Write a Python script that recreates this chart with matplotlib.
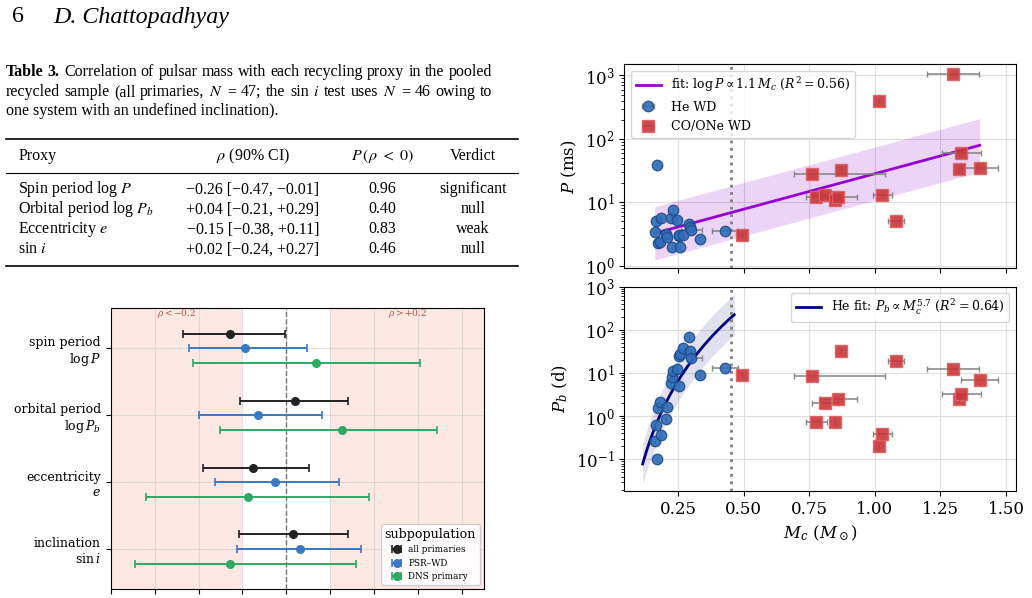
import numpy as np
import matplotlib.pyplot as plt
from matplotlib.lines import Line2D

plt.rcParams['font.family'] = 'DejaVu Serif'
plt.rcParams['mathtext.fontset'] = 'dejavuserif'

# ---- table 3 values ----
tab_proxy = ['Spin period log $P$', 'Orbital period log $P_b$', 'Eccentricity $e$', 'sin $i$']
tab_med = [-0.26, 0.04, -0.15, 0.02]
tab_lo = [-0.47, -0.21, -0.38, -0.24]
tab_hi = [-0.01, 0.29, 0.11, 0.27]
tab_pneg = [0.96, 0.40, 0.83, 0.46]
tab_verdict = ['significant', 'null', 'weak', 'null']

# ---- forest plot ----
proxies = ['spin period\n$\\log P$', 'orbital period\n$\\log P_b$', 'eccentricity\n$e$', 'inclination\n$\\sin i$']
subpops = ['all primaries', 'PSR\u2013WD', 'DNS primary']
sub_colors = ['#222222', '#3a78c3', '#2ea862']
rho_all = [-0.255, 0.04, -0.15, 0.03]
lo_all = [-0.47, -0.21, -0.38, -0.215]
hi_all = [-0.005, 0.28, 0.105, 0.28]
rho_wd = [-0.19, -0.13, -0.05, 0.06]
lo_wd = [-0.445, -0.40, -0.325, -0.225]
hi_wd = [0.095, 0.16, 0.24, 0.34]
rho_dns = [0.135, 0.255, -0.175, -0.255]
lo_dns = [-0.425, -0.30, -0.64, -0.69]
hi_dns = [0.61, 0.685, 0.375, 0.315]

# ---- companion mass panels ----
he_mc = [0.161, 0.167, 0.171, 0.172, 0.180, 0.183, 0.203, 0.208, 0.222, 0.225, 0.231,
         0.245, 0.253, 0.255, 0.257, 0.270, 0.290, 0.297, 0.300, 0.332, 0.430]
he_p = [3.4, 5.1, 39, 2.3, 2.4, 5.7, 3.2, 2.8, 5.7, 2.0, 7.6,
        5.3, 2.9, 3.1, 1.95, 3.05, 4.5, 4.1, 3.7, 2.6, 3.5]
he_pb = [0.27, 0.62, 0.105, 1.56, 2.1, 0.36, 0.87, 1.6, 5.9, 8.1, 11,
         12.6, 25, 4.9, 28, 38, 68, 33, 22, 9.2, 13]
he_err = [0, 0, 0, 0, 0, 0, 0, 0, 0, 0, 0,
          0, 0, 0, 0, 0, 0, 0, 0.04, 0, 0.05]

co_mc = [0.494, 0.76, 0.776, 0.81, 0.849, 0.861, 0.871, 1.017, 1.029, 1.08, 1.299, 1.32, 1.33, 1.40]
co_p = [3.05, 28, 12.3, 13.1, 11, 12.3, 32, 390, 12.8, 5.0, 1070, 33, 60, 35]
co_pb = [8.9, 8.4, 0.74, 2.0, 0.74, 2.5, 33, 0.20, 0.38, 19.3, 12.4, 2.5, 3.3, 6.8]
co_err_lo = [0, 0.07, 0.04, 0.05, 0, 0.07, 0, 0, 0.035, 0.03, 0.10, 0, 0.075, 0.07]
co_err_hi = [0, 0.28, 0.04, 0.05, 0, 0.07, 0, 0, 0.035, 0.03, 0.10, 0, 0.075, 0.07]

p_slope, p_icpt, p_scatter = 1.12, 0.331, 0.42        # log P = a + b Mc
pb_index, pb_ref_mc, pb_ref_log, pb_scatter = 5.7, 0.464, 2.35, 0.47
pb_fit_range = (0.115, 0.464)
mc_split = 0.45

W, H = 1032, 598
fig = plt.figure(figsize=(W / 100, H / 100), dpi=100)
renderer = fig.canvas.get_renderer()

page = dict(family='Liberation Serif', math_fontfamily='stix', va='baseline')
FS = 11.5


def fx(x):
    return x / W


def fy(y):
    return 1 - y / H


def px_axes(l, t, r, b, **kw):
    return fig.add_axes([l / W, 1 - b / H, (r - l) / W, (b - t) / H], **kw)


def justified(words, x0, x1, y, size):
    ts = []
    for w in words:
        bold = w.startswith('**')
        ts.append(fig.text(0, 0, w.strip('*'), fontsize=size,
                           fontweight='bold' if bold else 'normal', **page))
    ws = [t.get_window_extent(renderer).width for t in ts]
    gap = (x1 - x0 - sum(ws)) / (len(ts) - 1)
    x = x0
    for t, w in zip(ts, ws):
        t.set_position((fx(x), fy(y)))
        x += w + gap


def fmt(v):
    return f'{v:+.2f}'.replace('-', '\u2212')


# header
fig.text(fx(12), fy(22.5), '6', fontsize=17.3, **page)
fig.text(fx(53), fy(22.5), 'D. Chattopadhyay', fontsize=17.3, style='italic', **page)

# caption
cap1 = '**Table** **3.** Correlation of pulsar mass with each recycling proxy in the pooled'.split()
cap2 = 'recycled sample (all primaries, $N$ = 47; the sin $i$ test uses $N$ = 46 owing to'.split()
justified(cap1, 6, 492, 76, FS)
justified(cap2, 6, 492, 96, FS)
fig.text(fx(6), fy(115), 'one system with an undefined inclination).', fontsize=FS, **page)

# table
for y, lw in [(139.3, 1.2), (172.7, 0.8), (265.7, 1.2)]:
    fig.add_artist(Line2D([fx(6), fx(518)], [fy(y), fy(y)], color='k', lw=lw))
col_x = [18.3, 253, 382.7, 472.7]
heads = ['Proxy', '$\\rho$ (90% CI)', '$P\\,(\\rho\\ <\\ 0)$', 'Verdict']
for i, h in enumerate(heads):
    fig.text(fx(col_x[i]), fy(160), h, fontsize=FS, ha='left' if i == 0 else 'center', **page)
for j in range(4):
    y = 193.3 + 20 * j
    fig.text(fx(col_x[0]), fy(y), tab_proxy[j], fontsize=FS, ha='left', **page)
    fig.text(fx(col_x[1]), fy(y), f'{fmt(tab_med[j])} [{fmt(tab_lo[j])}, {fmt(tab_hi[j])}]',
             fontsize=FS, ha='center', **page)
    fig.text(fx(col_x[2]), fy(y), f'{tab_pneg[j]:.2f}', fontsize=FS, ha='center', **page)
    fig.text(fx(col_x[3]), fy(y), tab_verdict[j], fontsize=FS, ha='center', **page)

# forest plot
ax = px_axes(110.7, 308.3, 484, 589.3)
ax.axvspan(-0.8, -0.2, color='#fde8e4', lw=0, zorder=0)
ax.axvspan(0.2, 0.9, color='#fde8e4', lw=0, zorder=0)
ax.axvline(0, color='#777777', ls='--', lw=1, zorder=1)
ypos = np.arange(len(proxies))
groups = [(rho_all, lo_all, hi_all), (rho_wd, lo_wd, hi_wd), (rho_dns, lo_dns, hi_dns)]
for k, (rho, lo, hi) in enumerate(groups):
    rho, lo, hi = map(np.array, (rho, lo, hi))
    ax.errorbar(rho, ypos + (k - 1) * 0.22, xerr=[rho - lo, hi - rho], fmt='o', color=sub_colors[k],
                ms=5.5, capsize=3, elinewidth=1.4, capthick=1.2, label=subpops[k], zorder=3)
ax.set_xlim(-0.8, 0.9)
ax.set_ylim(3.6, -0.6)
ax.set_xticks(np.arange(-0.8, 0.81, 0.2))
ax.set_yticks(ypos)
ax.set_yticklabels(proxies, fontsize=9)
ax.tick_params(labelsize=9, labelbottom=False)
ax.grid(True, color='#cccccc', lw=0.8, alpha=0.6)
ax.set_axisbelow(True)
ax.text(-0.5, -0.52, '$\\rho < -0.2$', color='#b5524a', fontsize=6.5, ha='center', va='center')
ax.text(0.55, -0.52, '$\\rho > +0.2$', color='#b5524a', fontsize=6.5, ha='center', va='center')
ax.legend(loc='lower right', title='subpopulation', fontsize=6.4, title_fontsize=9.1,
          handlelength=1.0, framealpha=0.9)

# companion-mass panels
ax1 = px_axes(624.3, 64.3, 1015.7, 268.3)
ax2 = px_axes(624.3, 286.7, 1015.7, 491, sharex=ax1)

all_mc = np.array(he_mc + co_mc)
mc_line = np.linspace(all_mc.min(), all_mc.max(), 100)
logp_line = p_icpt + p_slope * mc_line
ax1.fill_between(mc_line, 10 ** (logp_line - p_scatter), 10 ** (logp_line + p_scatter),
                 color='darkviolet', alpha=0.17, lw=0)
ax1.plot(mc_line, 10 ** logp_line, color='darkviolet', lw=2,
         label='fit: $\\log P \\propto 1.1\\,M_c$ ($R^2 = 0.56$)')

mc_he_line = np.linspace(*pb_fit_range, 100)
logpb_line = pb_ref_log + pb_index * np.log10(mc_he_line / pb_ref_mc)
ax2.fill_between(mc_he_line, 10 ** (logpb_line - pb_scatter), 10 ** (logpb_line + pb_scatter),
                 color='navy', alpha=0.12, lw=0)
ax2.plot(mc_he_line, 10 ** logpb_line, color='navy', lw=2,
         label='He fit: $P_b \\propto M_c^{5.7}$ ($R^2 = 0.64$)')

eb = dict(ecolor='gray', elinewidth=1.2, capsize=2.5, alpha=0.9, zorder=3)
for a, he_y, co_y in [(ax1, he_p, co_p), (ax2, he_pb, co_pb)]:
    a.errorbar(he_mc, he_y, xerr=he_err, fmt='o', ms=7.5, mfc='#2f6dba', mec='#1f4f8c',
               label='He WD', **eb)
    a.errorbar(co_mc, co_y, xerr=[co_err_lo, co_err_hi], fmt='s', ms=8.3, mfc='#c8363a', mec='#e06060',
               label='CO/ONe WD', **eb)
    a.axvline(mc_split, color='gray', ls=':', lw=2, zorder=2)
    a.set_yscale('log')
    a.grid(True, which='major', color='#dddddd', lw=0.8)
    a.set_axisbelow(True)
    a.tick_params(labelsize=12)

ax1.set_xlim(0.045, 1.537)
ax1.set_ylim(0.91, 1500)
ax2.set_ylim(0.0186, 1000)
ax1.tick_params(labelbottom=False)
ax1.set_ylabel('$P$ (ms)', fontsize=12)
ax2.set_ylabel('$P_b$ (d)', fontsize=12)
ax2.set_xlabel('$M_c$ ($M_\\odot$)', fontsize=12)
ax1.legend(loc='upper left', fontsize=9)
ax2.legend(handles=[ax2.get_lines()[0]], loc='upper right', fontsize=9)

fig.savefig('out.png', dpi=100)
